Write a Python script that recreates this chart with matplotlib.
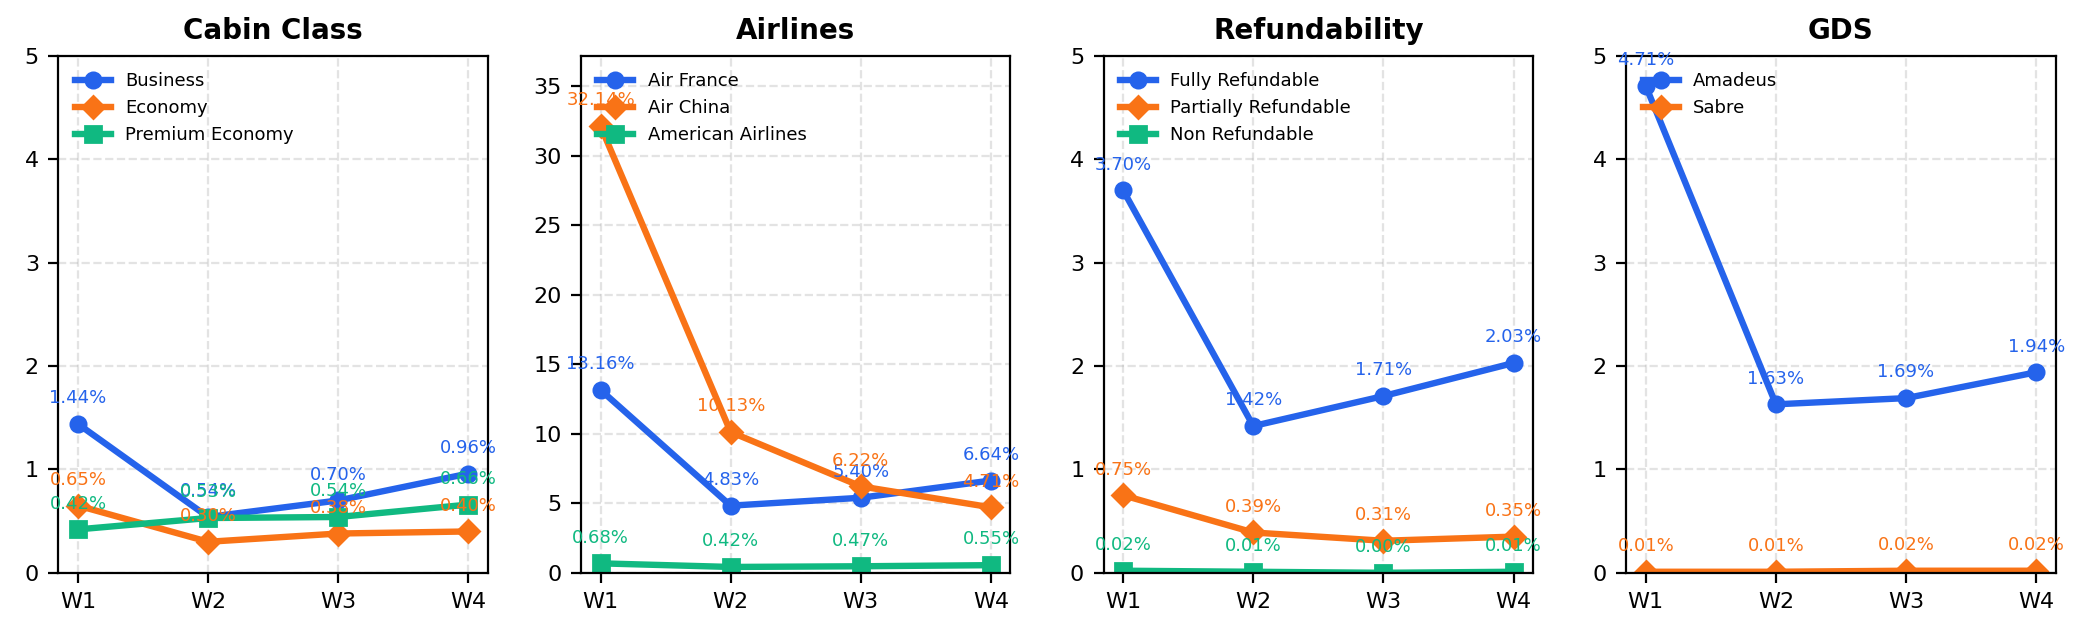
import matplotlib
matplotlib.use("Agg")
import matplotlib.pyplot as plt

weeks = ["W1", "W2", "W3", "W4"]

# cabin class
business = [1.44, 0.54, 0.70, 0.96]
economy = [0.65, 0.30, 0.38, 0.40]
premium_economy = [0.42, 0.53, 0.54, 0.66]

# airlines
air_france = [13.16, 4.83, 5.40, 6.64]
air_china = [32.14, 10.13, 6.22, 4.71]
american_airlines = [0.68, 0.42, 0.47, 0.55]

# refundability
fully_refundable = [3.70, 1.42, 1.71, 2.03]
partially_refundable = [0.75, 0.39, 0.31, 0.35]
non_refundable = [0.02, 0.01, 0.00, 0.01]

# gds
amadeus = [4.71, 1.63, 1.69, 1.94]
sabre = [0.01, 0.01, 0.02, 0.02]

colors = ["#2563eb", "#f97316", "#10b981"]
markers = ["o", "D", "s"]

panels = [
    ("Cabin Class", [("Business", business), ("Economy", economy), ("Premium Economy", premium_economy)]),
    ("Airlines", [("Air France", air_france), ("Air China", air_china), ("American Airlines", american_airlines)]),
    ("Refundability", [("Fully Refundable", fully_refundable), ("Partially Refundable", partially_refundable),
                       ("Non Refundable", non_refundable)]),
    ("GDS", [("Amadeus", amadeus), ("Sabre", sabre)]),
]

fig, axes = plt.subplots(1, 4, figsize=(10.435, 3.2), dpi=200)
fig.subplots_adjust(left=0.028, right=0.985, top=0.9125, bottom=0.105, wspace=0.217)

for ax, (title, series) in zip(axes, panels):
    x = list(range(len(weeks)))
    ymax = 0
    for i, (name, vals) in enumerate(series):
        ax.plot(x, vals, color=colors[i], marker=markers[i], lw=2.3, ms=5.5, label=name)
        for xi, v in zip(x, vals):
            ax.annotate(f"{v:.2f}%", (xi, v), xytext=(0, 6), textcoords="offset points",
                        ha="center", va="bottom", fontsize=6.5, color=colors[i])
        ymax = max(ymax, max(vals))
    # small panels stay on a fixed 0-5 scale
    ax.set_ylim(0, 5 if ymax < 5 else ymax * 1.157)
    ax.set_xticks(x)
    ax.set_xticklabels(weeks)
    ax.tick_params(labelsize=8)
    ax.set_title(title, fontsize=10, fontweight="bold")
    ax.grid(True, linestyle="--", alpha=0.35)
    ax.legend(loc="upper left", fontsize=6.5, frameon=False)

plt.savefig("out.png", dpi=200)
